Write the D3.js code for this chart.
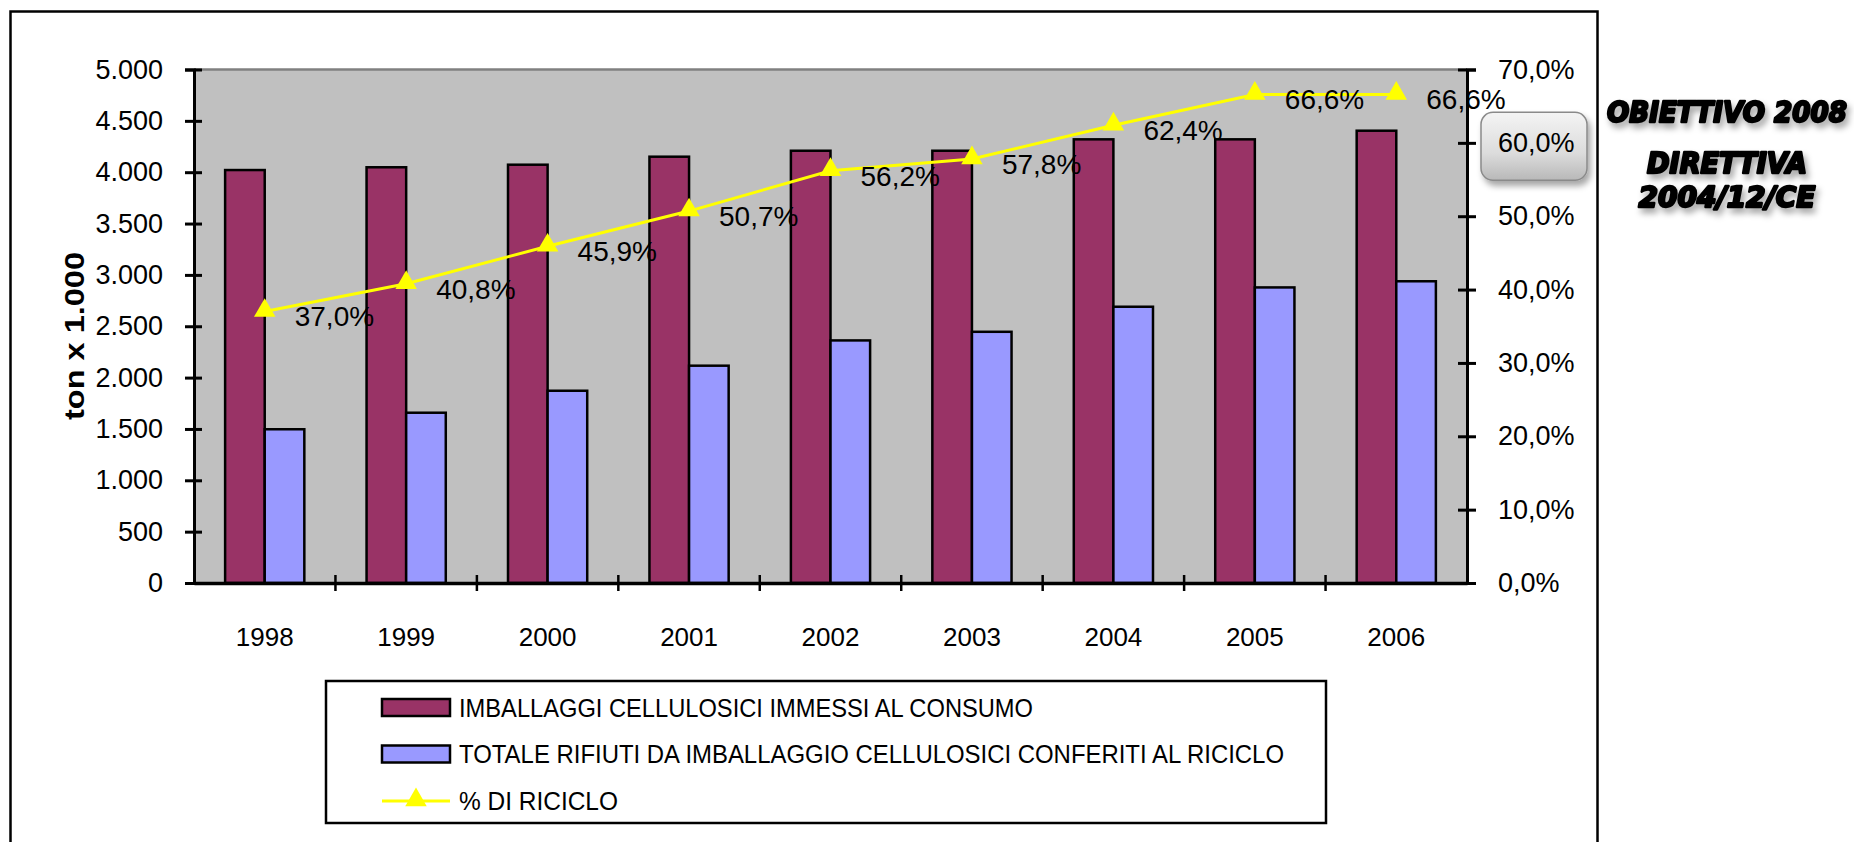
<!DOCTYPE html>
<html>
<head>
<meta charset="utf-8">
<script src="https://cdn.jsdelivr.net/npm/d3@7"></script>
<style>
  body { margin: 0; background: #fff; }
  svg { display: block; }
  .tick text { font-family: "Liberation Sans", Arial, sans-serif; fill: #000; }
</style>
</head>
<body>
<div id="chart"></div>
<script>
// years and series (ton x 1.000)
const years = ["1998", "1999", "2000", "2001", "2002", "2003", "2004", "2005", "2006"];
const immessi = [4021, 4048, 4073, 4151, 4209, 4209, 4320, 4320, 4404];
const riciclati = [1497, 1658, 1872, 2116, 2362, 2446, 2690, 2878, 2938];
const percRiciclo = [0.370, 0.408, 0.459, 0.507, 0.562, 0.578, 0.624, 0.666, 0.666];

const leftTicks = [0, 500, 1000, 1500, 2000, 2500, 3000, 3500, 4000, 4500, 5000];
const rightTicks = [0, 0.1, 0.2, 0.3, 0.4, 0.5, 0.6, 0.7];
const obiettivo = 0.6;

const legendLabels = [
    "IMBALLAGGI CELLULOSICI IMMESSI AL CONSUMO",
    "TOTALE RIFIUTI DA IMBALLAGGIO CELLULOSICI CONFERITI AL RICICLO",
    "% DI RICICLO"
];
const noteLines = ["OBIETTIVO 2008", "DIRETTIVA", "2004/12/CE"];

const colMaroon = "#993366", colBlue = "#9999ff", colYellow = "#ffff00";

// italian number format
const it = d3.formatLocale({decimal: ",", thousands: ".", grouping: [3], currency: ["€", ""]});
const fmtTon = it.format(",.0f");
const fmtPct = it.format(".1%");

const W = 1854, H = 842;
const plot = {left: 194, right: 1467, top: 69.5, bottom: 583};

const svg = d3.select("#chart").append("svg")
    .attr("width", W).attr("height", H);

const defs = svg.append("defs");
const shadow = defs.append("filter").attr("id", "shadow")
    .attr("x", "-20%").attr("y", "-40%").attr("width", "140%").attr("height", "200%");
shadow.append("feDropShadow").attr("dx", 3).attr("dy", 5).attr("stdDeviation", 3)
    .attr("flood-color", "#000").attr("flood-opacity", 0.35);
const grad = defs.append("linearGradient").attr("id", "boxGrad")
    .attr("x1", 0).attr("y1", 0).attr("x2", 0).attr("y2", 1);
grad.append("stop").attr("offset", "0%").attr("stop-color", "#f4f4f4");
grad.append("stop").attr("offset", "60%").attr("stop-color", "#dcdcdc");
grad.append("stop").attr("offset", "100%").attr("stop-color", "#b8b8b8");

// outer frame
svg.append("rect")
    .attr("x", 10.5).attr("y", 11.5).attr("width", 1587).attr("height", 860)
    .attr("fill", "none").attr("stroke", "#000").attr("stroke-width", 2.5);

// scales
const x = d3.scaleBand().domain(years)
    .range([plot.left, plot.right]).paddingInner(0.44).paddingOuter(0.22);
const xs = d3.scaleBand().domain([0, 1]).range([0, x.bandwidth()]);
const yL = d3.scaleLinear().domain([0, 5000]).range([plot.bottom, plot.top]);
const yR = d3.scaleLinear().domain([0, 0.7]).range([plot.bottom, plot.top]);

// plot area
svg.append("rect")
    .attr("x", plot.left).attr("y", plot.top)
    .attr("width", plot.right - plot.left).attr("height", plot.bottom - plot.top)
    .attr("fill", "#c0c0c0");
svg.append("line")
    .attr("x1", plot.left).attr("x2", plot.right)
    .attr("y1", plot.top).attr("y2", plot.top)
    .attr("stroke", "#808080").attr("stroke-width", 2.5);

// bars
const series = [immessi, riciclati];
const fills = [colMaroon, colBlue];
series.forEach((vals, s) => {
    svg.append("g").selectAll("rect")
        .data(vals)
        .enter().append("rect")
        .attr("x", (d, i) => x(years[i]) + xs(s))
        .attr("y", d => yL(d))
        .attr("width", xs.bandwidth())
        .attr("height", d => yL(0) - yL(d))
        .attr("fill", fills[s])
        .attr("stroke", "#000")
        .attr("stroke-width", 2.5);
});

// % line
const cx = i => x(years[i]) + x.bandwidth() / 2;
const line = d3.line()
    .x((d, i) => cx(i))
    .y(d => yR(d));
svg.append("path")
    .datum(percRiciclo)
    .attr("fill", "none")
    .attr("stroke", colYellow)
    .attr("stroke-width", 3)
    .attr("d", line);

const tri = d3.symbol().type(d3.symbolTriangle).size(200);
svg.append("g").selectAll("path")
    .data(percRiciclo)
    .enter().append("path")
    .attr("d", tri)
    .attr("transform", (d, i) => "translate(" + cx(i) + "," + (yR(d) - 1) + ")")
    .attr("fill", colYellow);

// left axis
const gL = svg.append("g")
    .attr("transform", "translate(" + plot.left + ",0)")
    .call(d3.axisLeft(yL).tickValues(leftTicks).tickFormat(fmtTon).tickSize(9).tickPadding(22));
gL.select(".domain").attr("stroke-width", 3);
gL.selectAll(".tick line").attr("x1", 8).attr("stroke-width", 3);
gL.selectAll(".tick text").attr("font-size", 27);

// right axis
const gR = svg.append("g")
    .attr("transform", "translate(" + plot.right + ",0)")
    .call(d3.axisRight(yR).tickValues(rightTicks).tickFormat(fmtPct).tickSize(9).tickPadding(22));
gR.select(".domain").attr("stroke-width", 3);
gR.selectAll(".tick line").attr("x1", -9).attr("stroke-width", 3);
gR.selectAll(".tick text").attr("font-size", 27);

// highlight box for the 2008 target
const targetTick = gR.selectAll(".tick").filter(d => d === obiettivo);
targetTick.insert("rect", "text")
    .attr("x", 14).attr("y", -31).attr("width", 106).attr("height", 68)
    .attr("rx", 12).attr("ry", 12)
    .attr("fill", "url(#boxGrad)")
    .attr("stroke", "#8a8a8a").attr("stroke-width", 1.5)
    .attr("filter", "url(#shadow)");

// bottom axis: category labels and boundary ticks
const gB = svg.append("g")
    .attr("transform", "translate(0," + plot.bottom + ")")
    .call(d3.axisBottom(x).tickSize(0).tickPadding(45));
gB.select(".domain").attr("stroke-width", 3.5);
gB.selectAll(".tick text").attr("font-size", 26);

const bounds = years.slice(1).map(y => x(y) - x.step() * x.paddingInner() / 2);
gB.append("g").selectAll("line")
    .data(bounds)
    .enter().append("line")
    .attr("x1", d => d).attr("x2", d => d)
    .attr("y1", -8).attr("y2", 8)
    .attr("stroke", "#000").attr("stroke-width", 2.5);

// data labels (on top of the axes)
svg.append("g").selectAll("text")
    .data(percRiciclo)
    .enter().append("text")
    .attr("x", (d, i) => cx(i) + 30)
    .attr("y", d => yR(d) + 5)
    .attr("dy", "0.35em")
    .attr("font-family", "Liberation Sans, Arial, sans-serif")
    .attr("font-size", 28)
    .text(d => fmtPct(d));

// y axis title
svg.append("text")
    .attr("transform", "translate(84,336) rotate(-90)")
    .attr("text-anchor", "middle")
    .attr("font-family", "Liberation Sans, Arial, sans-serif")
    .attr("font-weight", "bold")
    .attr("font-size", 27)
    .attr("textLength", 168)
    .attr("lengthAdjust", "spacingAndGlyphs")
    .text("ton x 1.000");

// legend
const lg = svg.append("g");
lg.append("rect")
    .attr("x", 326).attr("y", 681).attr("width", 1000).attr("height", 142)
    .attr("fill", "#fff").attr("stroke", "#000").attr("stroke-width", 2.5);
const legRows = [708, 754.5, 801];
const legLens = [574, 825, 159];
legendLabels.forEach((lab, i) => {
    if (i < 2) {
        lg.append("rect")
            .attr("x", 382).attr("y", legRows[i] - 9).attr("width", 68).attr("height", 17)
            .attr("fill", fills[i]).attr("stroke", "#000").attr("stroke-width", 2.5);
    } else {
        lg.append("line")
            .attr("x1", 382).attr("x2", 450).attr("y1", legRows[i]).attr("y2", legRows[i])
            .attr("stroke", colYellow).attr("stroke-width", 3);
        lg.append("path")
            .attr("d", tri)
            .attr("transform", "translate(416," + (legRows[i] - 1) + ")")
            .attr("fill", colYellow);
    }
    lg.append("text")
        .attr("x", 459).attr("y", legRows[i])
        .attr("dy", "0.35em")
        .attr("font-family", "Liberation Sans, Arial, sans-serif")
        .attr("font-size", 25)
        .attr("textLength", legLens[i])
        .attr("lengthAdjust", "spacingAndGlyphs")
        .text(lab);
});

// note on the right
const noteY = [122, 173, 207];
const noteLen = [240, 160, 177];
noteLines.forEach((t, i) => {
    svg.append("text")
        .attr("x", 1727).attr("y", noteY[i])
        .attr("text-anchor", "middle")
        .attr("font-family", "DejaVu Sans, sans-serif")
        .attr("font-weight", "bold")
        .attr("font-style", "italic")
        .attr("font-size", 28)
        .attr("stroke", "#000").attr("stroke-width", 2.4)
        .attr("stroke-linejoin", "round")
        .attr("textLength", noteLen[i])
        .attr("lengthAdjust", "spacingAndGlyphs")
        .attr("filter", "url(#shadow)")
        .text(t);
});
</script>
</body>
</html>
